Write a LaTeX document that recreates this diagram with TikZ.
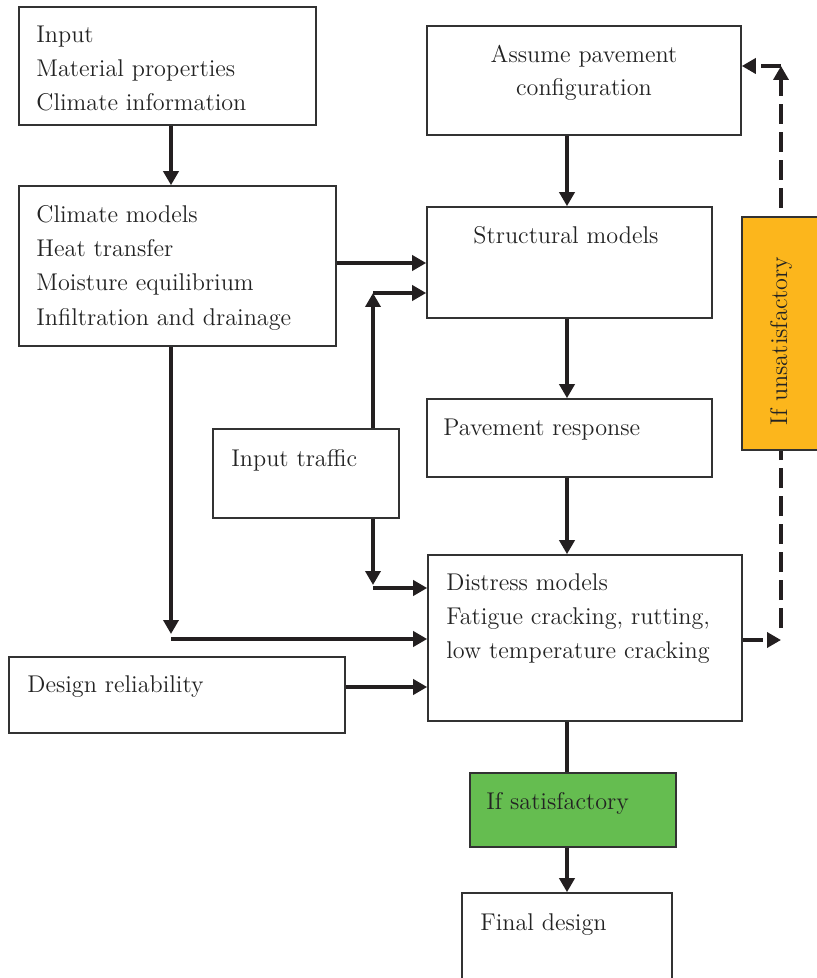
\documentclass[tikz,border=0pt]{standalone}
\usepackage{fontspec}
\usetikzlibrary{arrows.meta,fit}
\definecolor{linec}{RGB}{35,31,32}
\definecolor{boxc}{RGB}{50,50,50}
\definecolor{txtc}{RGB}{35,35,35}
\definecolor{greenc}{RGB}{101,189,80}
\definecolor{orangec}{RGB}{252,182,28}
\begin{document}
\begin{tikzpicture}[x=0.5pt,y=-0.5pt,
  box/.style={draw=boxc, line width=0.8pt, inner sep=0pt},
  txt/.style={inner sep=0pt, text=txtc, font=\fontsize{12.1}{17}\selectfont},
  arr/.style={draw=linec, line width=2pt, -{Triangle[length=7pt,width=7.5pt]}},
  plainline/.style={draw=linec, line width=2pt},
  dline/.style={draw=linec, line width=2pt, dash pattern=on 10pt off 4pt},
  darr/.style={dline, -{Triangle[length=7pt,width=7.5pt]}}
]
\useasboundingbox (0,0) rectangle (816,978);

% boxes
\node[box, fit={(19,7)(316,125)}] (input) {};
\node[txt, anchor=base west] (t1a) at (36,43) {Input};
\node[txt, anchor=base west] (t1b) at (36,77) {Material properties};
\node[txt, anchor=base west] (t1c) at (36,111) {Climate information};

\node[box, fit={(19,186)(336,346)}] (climate) {};
\node[txt, anchor=base west] (t2a) at (36,223) {Climate models};
\node[txt, anchor=base west] (t2b) at (36,257) {Heat transfer};
\node[txt, anchor=base west] (t2c) at (36,291) {Moisture equilibrium};
\node[txt, anchor=base west] (t2d) at (36,325) {Infiltration and drainage};

\node[box, fit={(427,26)(741,135)}] (assume) {};
\node[txt, anchor=base] (t3a) at (584,63) {Assume pavement};
\node[txt, anchor=base] (t3b) at (584,96) {configuration};

\node[box, fit={(427,207)(712,318)}] (struct) {};
\node[txt, anchor=base] (t4) at (566,244) {Structural models};

\node[box, fit={(427,399)(712,477)}] (pave) {};
\node[txt, anchor=base west] (t5) at (443,435) {Pavement response};

\node[box, fit={(213,429)(399,518)}] (traffic) {};
\node[txt, anchor=base west] (t6) at (231,466) {Input traffic};

\node[box, fit={(428,555)(742,721)}] (distress) {};
\node[txt, anchor=base west] (t7a) at (446,590) {Distress models};
\node[txt, anchor=base west] (t7b) at (446,624) {Fatigue cracking, rutting,};
\node[txt, anchor=base west] (t7c) at (446,658) {low temperature cracking};

\node[box, fit={(9,657)(345,733)}] (rel) {};
\node[txt, anchor=base west] (t8) at (27,692) {Design reliability};

\node[box, fill=greenc, fit={(470,773)(676,847)}] (green) {};
\node[txt, anchor=base west] (t9) at (486,809) {If satisfactory};

\node[box, fit={(462,893)(672,984)}] (final) {};
\node[txt, anchor=base west] (t10) at (480,930) {Final design};

% helper coordinates
\coordinate (xa) at (171,0);
\coordinate (xm) at (567,0);
\coordinate (xt) at (373,0);
\coordinate (xd) at (781,0);
\coordinate (yc) at (0,263);
\coordinate (yt) at (0,293);
\coordinate (ytd) at (0,588);
\coordinate (ycd) at (0,639);
\coordinate (yr) at (0,687);
\coordinate (yd) at (0,640);
\coordinate (ya) at (0,66);
\coordinate (tup) at (xt |- yt);
\coordinate (tdntip) at (373,585);
\coordinate (tdn) at (xt |- ytd);
\coordinate (cdntip) at (171,634);
\coordinate (cdn) at (xa |- ycd);
\coordinate (dcorner) at (xd |- yd);
\coordinate (dstart) at (781,628);
\coordinate (dtop) at (xd |- ya);

% connectors
\draw[arr] (input.south -| xa) -- (climate.north -| xa);
\draw[arr] (assume.south -| xm) -- (struct.north -| xm);
\draw[arr] (climate.east |- yc) -- (struct.west |- yc);
\draw[arr] (traffic.north -| xt) -- (tup);
\draw[arr] (tup) -- (struct.west |- yt);
\draw[arr] (struct.south -| xm) -- (pave.north -| xm);
\draw[arr] (pave.south -| xm) -- (distress.north -| xm);
\draw[arr] (traffic.south -| xt) -- (tdntip);
\draw[arr] (tdn) -- (distress.west |- ytd);
\draw[arr] (climate.south -| xa) -- (cdntip);
\draw[arr] (cdn) -- (distress.west |- ycd);
\draw[arr] (rel.east |- yr) -- (distress.west |- yr);
\draw[plainline] (distress.south -| xm) -- (green.north -| xm);
\draw[arr] (green.south -| xm) -- (final.north -| xm);

% dashed feedback
\draw[darr] (distress.east |- yd) -- (dcorner);
\draw[darr] (dstart) -- (dtop);
\draw[darr] (dtop) -- (assume.east |- ya);

\node[box, fill=orangec, fit={(742,217)(822,450)}] (orange) {};
\node[txt, rotate=90] (t11) at (781,341) {If unsatisfactory};
\end{tikzpicture}
\end{document}
